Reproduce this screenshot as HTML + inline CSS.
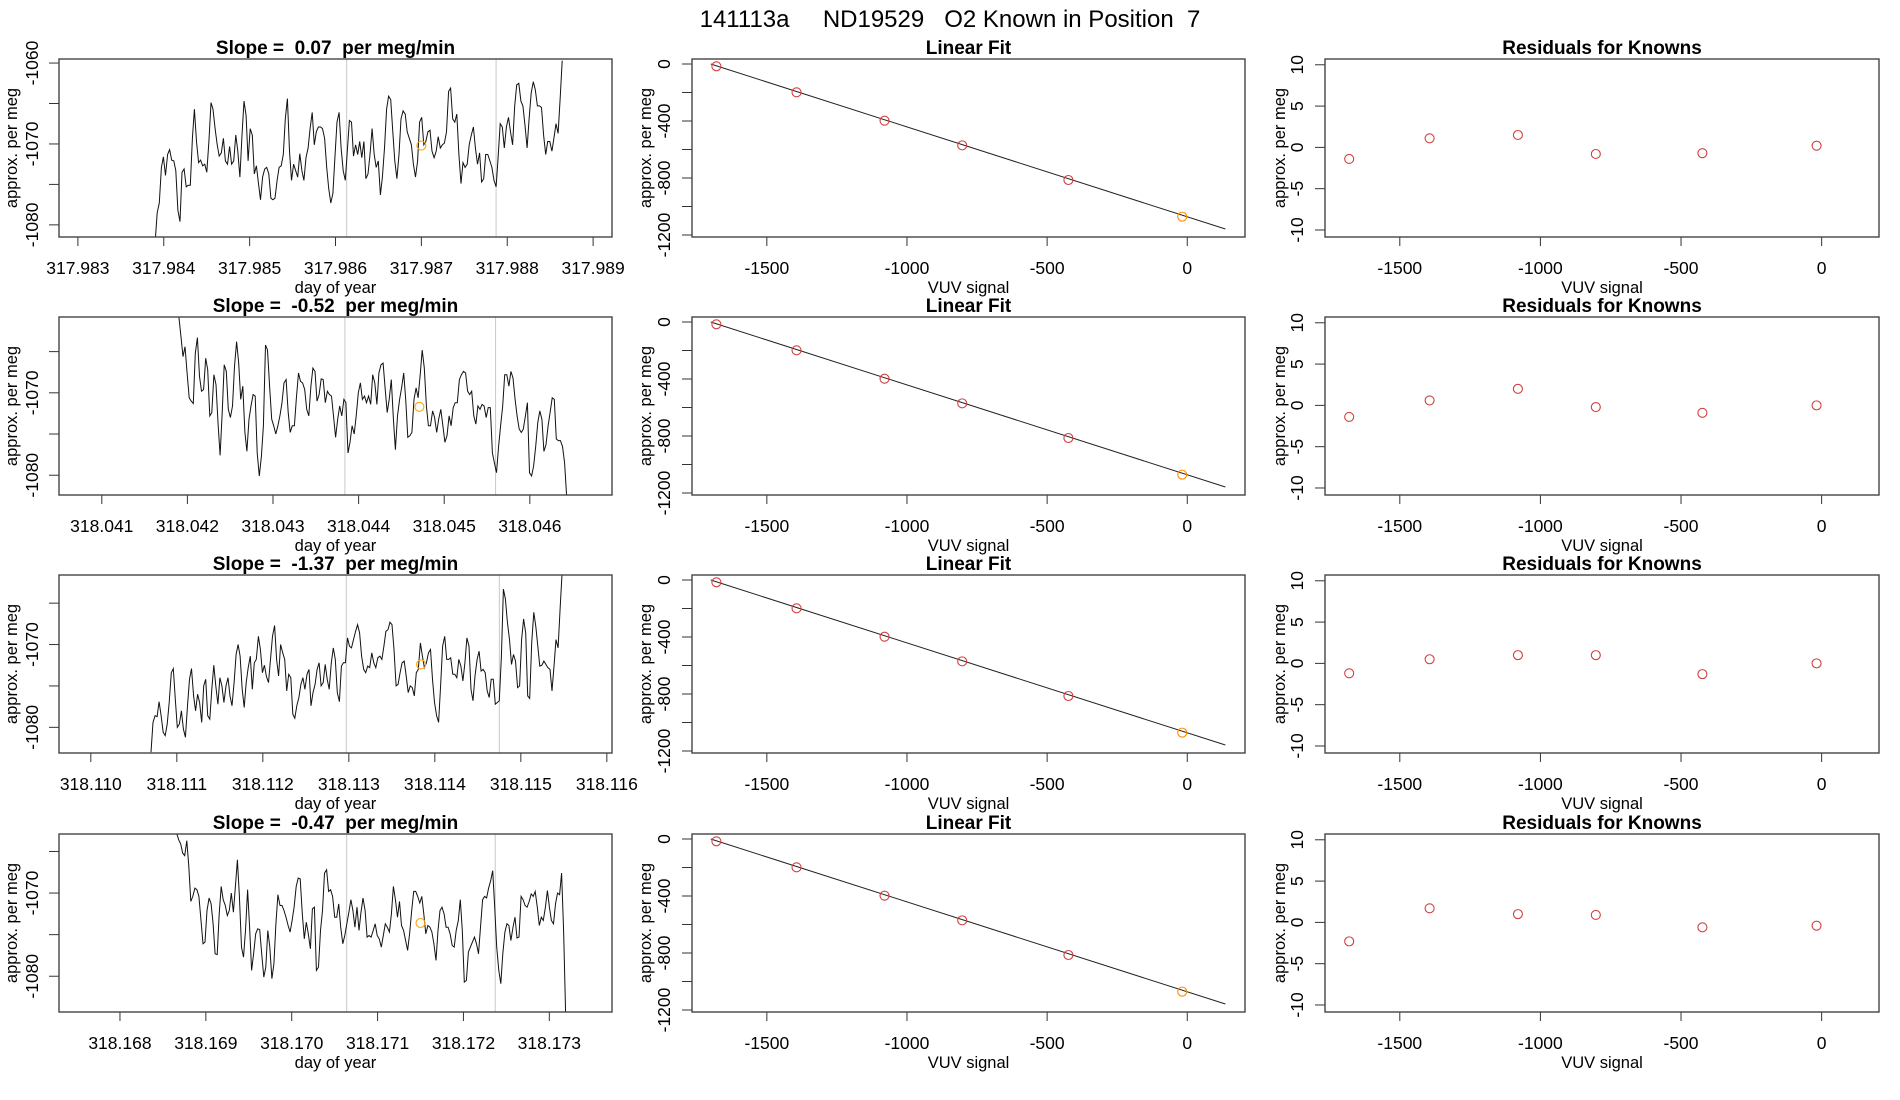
<!DOCTYPE html>
<html><head><meta charset="utf-8"><style>
html,body{margin:0;padding:0;background:#fff;}
svg{display:block;font-family:"Liberation Sans",sans-serif;}
text{white-space:pre;}
</style></head><body>
<svg id="fig" width="1900" height="1100" viewBox="0 0 1900 1100">
<text x="950" y="27" font-size="24" text-anchor="middle" xml:space="preserve">141113a     ND19529   O2 Known in Position  7</text>
</svg>
<script>
// ---- data ----
const slopeLabels = ["0.07", "-0.52", "-1.37", "-0.47"];
const tStart = [317.98390, 318.04190, 318.11070, 318.16866];
const tEnd = [317.98864, 318.04643, 318.11548, 318.17319];
const tLim = [[317.98278, 317.98922],[318.0405, 318.04696],[318.10963, 318.11606],[318.16729, 318.17373]];
const yLim1 = [[-1081.5, -1059.5],[-1082.4, -1060.8],[-1083.1, -1061.6],[-1084.3, -1062.9]];
const tTicks = [
 ["317.983","317.984","317.985","317.986","317.987","317.988","317.989"],
 ["318.041","318.042","318.043","318.044","318.045","318.046"],
 ["318.110","318.111","318.112","318.113","318.114","318.115","318.116"],
 ["318.168","318.169","318.170","318.171","318.172","318.173"]];
const vLines = [[317.98613, 317.98787],[318.04384, 318.04560],[318.11297, 318.11475],[318.17064, 318.17237]];
const orangeT = [317.98700, 318.04471, 318.11384, 318.17150];
const orangeV = [-1070.2, -1071.7, -1072.4, -1073.6];
const series1 = [-1082,-1078.5,-1077.3,-1072.9,-1071.6,-1073.9,-1071.3,-1070.7,-1072.0,-1072.1,-1073.3,-1078.2,-1079.6,-1073.5,-1073.1,-1075.3,-1075.1,-1075.1,-1069.3,-1065.7,-1069.7,-1072.3,-1072.0,-1072.7,-1072.5,-1073.5,-1069.7,-1064.9,-1065.7,-1068.1,-1070.1,-1071.5,-1071.1,-1069.3,-1072.1,-1072.5,-1070.3,-1072.5,-1072.1,-1068.9,-1070.9,-1074.1,-1068.9,-1064.7,-1066.5,-1072.1,-1068.1,-1068.9,-1073.7,-1072.7,-1074.9,-1076.9,-1074.1,-1073.1,-1072.9,-1073.7,-1076.7,-1076.9,-1076.7,-1074.5,-1072.9,-1072.7,-1071.3,-1066.9,-1064.4,-1070.9,-1074.5,-1072.5,-1073.3,-1074.1,-1071.2,-1073.3,-1074.5,-1071.7,-1070.5,-1068.1,-1066.1,-1070.1,-1068.5,-1067.9,-1067.9,-1068.1,-1069.3,-1072.9,-1075.5,-1077.3,-1076.1,-1071.7,-1067.3,-1066.1,-1070.5,-1073.3,-1074.5,-1070.9,-1067.1,-1067.3,-1071.5,-1070.1,-1071.3,-1069.7,-1071.7,-1069.7,-1074.3,-1073.7,-1071.3,-1068.1,-1071.3,-1072.9,-1072.1,-1076.3,-1074.1,-1070.5,-1065.7,-1064.1,-1064.5,-1068.5,-1072.1,-1074.3,-1071.3,-1066.9,-1065.9,-1066.3,-1068.5,-1069.3,-1070.1,-1072.5,-1074.1,-1072.1,-1067.3,-1066.7,-1070.1,-1069.7,-1068.5,-1068.3,-1070.9,-1071.7,-1070.9,-1069.1,-1070.5,-1070.1,-1069.9,-1068.5,-1063.5,-1063.1,-1066.9,-1067.3,-1066.3,-1071.3,-1074.9,-1072.3,-1072.9,-1072.5,-1070.1,-1068.9,-1067.9,-1070.5,-1072.5,-1071.1,-1074.7,-1074.3,-1071.3,-1071.3,-1072.1,-1072.9,-1074.5,-1075.3,-1071.7,-1067.5,-1067.9,-1070.5,-1067.9,-1066.7,-1068.5,-1070.1,-1065.3,-1062.7,-1062.5,-1064.7,-1065.3,-1067.7,-1070.5,-1066.9,-1063.7,-1062.3,-1063.3,-1065.3,-1065.3,-1065.5,-1068.9,-1071.3,-1069.7,-1069.7,-1070.9,-1069.3,-1067.5,-1068.7,-1064.5,-1059.7];
const series2 = [-1060.7,-1063.1,-1065.6,-1064.4,-1067.6,-1070.6,-1071.0,-1071.3,-1065.2,-1063.3,-1068.0,-1069.8,-1069.6,-1065.8,-1067.2,-1072.8,-1072.4,-1067.8,-1069.0,-1073.6,-1077.6,-1072.4,-1066.6,-1067.4,-1072.0,-1073.0,-1071.6,-1066.8,-1063.8,-1066.4,-1070.8,-1069.2,-1074.8,-1077.1,-1073.2,-1071.6,-1070.2,-1070.4,-1077.3,-1080.1,-1077.7,-1074.0,-1064.2,-1064.8,-1069.2,-1073.2,-1074.0,-1075.0,-1074.0,-1072.8,-1071.2,-1068.8,-1068.4,-1072.4,-1074.8,-1074.0,-1074.0,-1070.6,-1067.6,-1068.6,-1068.8,-1069.6,-1072.0,-1072.8,-1069.2,-1067.0,-1067.4,-1071.0,-1070.2,-1068.3,-1068.4,-1071.2,-1069.8,-1070.2,-1070.4,-1072.8,-1075.4,-1073.2,-1071.6,-1072.8,-1070.8,-1071.2,-1077.3,-1076.0,-1074.0,-1075.0,-1072.8,-1070.0,-1068.8,-1070.8,-1070.4,-1071.2,-1070.4,-1071.4,-1067.8,-1068.8,-1071.4,-1067.6,-1066.6,-1066.4,-1069.4,-1072.4,-1070.8,-1068.4,-1073.2,-1076.9,-1072.8,-1070.8,-1069.4,-1067.6,-1070.8,-1075.4,-1075.2,-1074.8,-1070.8,-1069.4,-1070.6,-1067.8,-1064.8,-1067.0,-1071.6,-1074.0,-1074.0,-1072.2,-1073.0,-1074.8,-1073.2,-1072.0,-1074.0,-1076.0,-1075.2,-1072.8,-1074.0,-1071.8,-1071.2,-1071.2,-1068.4,-1067.8,-1067.4,-1067.6,-1069.8,-1070.2,-1069.8,-1072.8,-1073.8,-1071.6,-1072.0,-1071.4,-1071.6,-1073.0,-1071.8,-1071.8,-1077.3,-1078.5,-1079.7,-1076.5,-1074.0,-1071.6,-1067.8,-1067.8,-1069.2,-1067.4,-1068.2,-1070.8,-1072.8,-1074.4,-1074.8,-1074.4,-1072.8,-1071.2,-1079.7,-1080.1,-1078.9,-1076.5,-1073.6,-1072.2,-1073.2,-1077.1,-1076.3,-1074.0,-1072.4,-1070.6,-1070.8,-1075.6,-1075.8,-1075.8,-1076.5,-1078.5,-1082.5];
const series3 = [-1083.0,-1079.4,-1078.6,-1078.7,-1076.9,-1078.6,-1080.6,-1081.0,-1079.6,-1077.0,-1073.4,-1072.9,-1076.6,-1080.0,-1079.6,-1078.0,-1080.2,-1081.2,-1077.4,-1074.2,-1072.9,-1076.2,-1078.0,-1076.0,-1077.0,-1079.4,-1075.0,-1074.2,-1078.6,-1079.0,-1075.4,-1072.5,-1075.0,-1077.2,-1074.0,-1075.0,-1077.0,-1075.0,-1074.0,-1076.2,-1077.4,-1074.6,-1071.2,-1070.0,-1071.4,-1075.4,-1077.6,-1074.6,-1072.8,-1071.4,-1075.4,-1072.2,-1071.8,-1069.0,-1070.6,-1073.4,-1072.5,-1073.9,-1074.6,-1071.8,-1069.0,-1067.7,-1071.8,-1073.8,-1070.0,-1071.0,-1071.8,-1075.6,-1073.6,-1074.0,-1078.4,-1078.9,-1077.4,-1076.4,-1074.8,-1074.0,-1075.4,-1073.6,-1073.0,-1077.4,-1075.8,-1074.8,-1073.0,-1072.2,-1075.0,-1074.6,-1072.4,-1074.2,-1075.4,-1072.2,-1070.4,-1071.8,-1075.8,-1076.9,-1072.6,-1072.2,-1072.2,-1069.2,-1070.2,-1070.4,-1069.4,-1068.4,-1067.6,-1068.6,-1071.4,-1073.0,-1073.4,-1072.6,-1072.8,-1071.0,-1072.2,-1072.8,-1071.6,-1071.4,-1071.8,-1070.2,-1068.4,-1068.2,-1067.3,-1067.6,-1070.6,-1075.0,-1074.8,-1073.4,-1072.2,-1072.0,-1073.8,-1075.8,-1075.0,-1075.2,-1076.2,-1073.4,-1073.0,-1069.8,-1071.4,-1072.8,-1072.2,-1071.0,-1070.6,-1074.2,-1077.0,-1078.6,-1079.4,-1075.0,-1070.2,-1069.0,-1071.8,-1071.8,-1071.6,-1073.6,-1073.6,-1074.0,-1071.8,-1072.6,-1074.4,-1072.2,-1069.2,-1070.2,-1075.4,-1076.8,-1073.8,-1071.8,-1070.8,-1073.2,-1073.0,-1073.4,-1075.6,-1076.4,-1074.2,-1074.2,-1077.2,-1077.0,-1076.8,-1071.4,-1063.3,-1064.5,-1067.3,-1069.4,-1072.4,-1071.2,-1072.0,-1075.2,-1075.0,-1069.4,-1066.9,-1068.6,-1076.2,-1076.5,-1069.8,-1066.1,-1067.8,-1070.2,-1072.6,-1072.5,-1072.0,-1072.4,-1072.8,-1073.0,-1075.6,-1072.6,-1069.4,-1070.4,-1065.7,-1061.3];
const series4 = [-1062.8,-1063.6,-1064.1,-1065.2,-1065.5,-1063.7,-1066.8,-1071.0,-1070.4,-1069.4,-1069.6,-1070.4,-1073.3,-1076.1,-1075.9,-1072.1,-1070.6,-1071.3,-1073.7,-1077.3,-1077.4,-1072.5,-1069.2,-1070.8,-1071.5,-1072.7,-1072.1,-1070.0,-1072.3,-1069.2,-1066.0,-1070.4,-1076.5,-1077.7,-1074.5,-1069.6,-1074.1,-1079.3,-1077.3,-1074.9,-1074.3,-1074.4,-1077.3,-1080.1,-1078.9,-1074.5,-1076.5,-1080.3,-1078.5,-1073.7,-1070.2,-1071.5,-1071.5,-1072.1,-1072.9,-1073.9,-1074.7,-1073.3,-1071.7,-1069.2,-1068.2,-1068.3,-1072.5,-1075.5,-1073.5,-1074.9,-1076.7,-1071.9,-1071.7,-1079.3,-1078.9,-1074.5,-1072.1,-1067.6,-1067.2,-1069.8,-1069.6,-1070.4,-1072.9,-1072.9,-1071.3,-1074.1,-1076.1,-1075.1,-1073.7,-1072.3,-1070.8,-1072.1,-1074.1,-1071.7,-1074.5,-1072.3,-1070.6,-1072.1,-1075.3,-1075.1,-1075.3,-1074.5,-1073.7,-1075.1,-1075.5,-1076.5,-1075.1,-1073.7,-1074.1,-1074.7,-1072.5,-1069.2,-1070.8,-1072.9,-1071.0,-1073.9,-1074.5,-1075.7,-1076.9,-1074.9,-1072.1,-1069.8,-1069.8,-1070.4,-1071.2,-1070.4,-1072.5,-1074.9,-1073.9,-1074.1,-1074.7,-1076.1,-1078.1,-1074.5,-1072.1,-1071.7,-1072.5,-1074.1,-1074.1,-1074.9,-1076.3,-1076.5,-1074.5,-1073.3,-1070.8,-1074.5,-1080.7,-1080.5,-1077.1,-1076.5,-1075.9,-1075.3,-1076.1,-1077.3,-1074.1,-1070.8,-1070.4,-1070.6,-1069.4,-1068.5,-1067.3,-1071.7,-1076.5,-1079.3,-1080.9,-1077.3,-1074.7,-1073.7,-1073.9,-1075.7,-1074.1,-1072.9,-1075.4,-1075.3,-1070.4,-1070.8,-1071.5,-1071.7,-1071.0,-1070.1,-1070.4,-1069.8,-1071.7,-1073.9,-1072.9,-1073.3,-1071.7,-1069.7,-1071.7,-1073.3,-1073.7,-1071.3,-1070.0,-1070.2,-1067.6,-1074.5,-1084.4];
const seriesAll = [series1, series2, series3, series4];
const vuvKnown = [-1680, -1394, -1080, -803, -424, -18];
const fitValues = [-16, -199, -398, -571, -814, -1071];
const fitLineX = [-1700, 136];
const fitLineY = [0, -1158];
const residuals = [
 [-1.4, 1.1, 1.5, -0.8, -0.7, 0.2],
 [-1.4, 0.6, 2.0, -0.2, -0.9, 0.0],
 [-1.2, 0.5, 1.0, 1.0, -1.3, 0.0],
 [-2.3, 1.7, 1.0, 0.9, -0.6, -0.4]];
const vuvTicks = [-1500, -1000, -500, 0];
const fitYTicks = [0, -200, -400, -600, -800, -1000, -1200];
const fitYLabels = [0, -400, -800, -1200];
const resTicks = [10, 5, 0, -5, -10];
const tsTicks = [-1085, -1080, -1075, -1070, -1065, -1060];
const tsLabels = [-1080, -1070, -1060];

// ---- drawing ----
const svg = document.getElementById('fig');
const NS = 'http://www.w3.org/2000/svg';
function mk(tag, attrs, parent) {
  const e = document.createElementNS(NS, tag);
  for (const k in attrs) e.setAttribute(k, attrs[k]);
  (parent || svg).appendChild(e);
  return e;
}
function lin(d0, d1, r0, r1) { return v => r0 + (v - d0) / (d1 - d0) * (r1 - r0); }
const rowTop = [59, 317, 575, 834];
const BH = 178;
const P = [{l:59, r:612}, {l:692, r:1245}, {l:1325, r:1879}];
const tickCol = '#333', boxCol = '#444';
const FS = 17.5, LFS = 16.5, TFS = 19;
let clipId = 0;

function frame(g, p, top, titleText, xlab, titleX, nameBase) {
  const b = mk('rect', {x:p.l, y:top, width:p.r-p.l, height:BH, fill:'none', stroke:boxCol, 'stroke-width':1.4}, g);
  
  
  const t = mk('text', {x:(p.l+p.r)/2, y:top-5, 'font-size':TFS, 'font-weight':'bold', 'text-anchor':'middle'}, g);
  t.textContent = titleText;
  
  
  const xl = mk('text', {x:(p.l+p.r)/2, y:top+BH+56, 'font-size':LFS, 'text-anchor':'middle'}, g);
  xl.textContent = xlab;
  
  
  const yl = mk('text', {x:0, y:0, 'font-size':LFS, 'text-anchor':'middle', transform:`translate(${titleX},${top+BH/2}) rotate(-90)`}, g);
  yl.textContent = 'approx. per meg';
  
  
}
function xTicks(g, p, top, vals, labels, sx, nameBase) {
  const yb = top + BH;
  mk('line', {x1:sx(vals[0]), x2:sx(vals[vals.length-1]), y1:yb, y2:yb, stroke:tickCol, 'stroke-width':1}, g);
  vals.forEach((v, i) => {
    const x = sx(v);
    mk('line', {x1:x, x2:x, y1:yb, y2:yb+9, stroke:tickCol, 'stroke-width':1}, g);
    const t = mk('text', {x:x, y:yb+37, 'font-size':FS, 'text-anchor':'middle'}, g);
    t.textContent = labels[i];
    
    
  });
}
function yTicks(g, p, vals, labels, sy, labX, nameBase) {
  vals.forEach(v => {
    const y = sy(v);
    mk('line', {x1:p.l-10, x2:p.l, y1:y, y2:y, stroke:tickCol, 'stroke-width':1}, g);
  });
  labels.forEach(v => {
    const y = sy(v);
    const t = mk('text', {x:0, y:0, 'font-size':FS, 'text-anchor':'middle', transform:`translate(${labX},${y}) rotate(-90)`}, g);
    t.textContent = String(v);
    
    
  });
}
function circle(g, cx, cy, col, name) {
  const c = mk('circle', {cx:cx, cy:cy, r:4.5, fill:'none', stroke:col, 'stroke-width':1.1}, g);
  
  
}

for (let r = 0; r < 4; r++) {
  const top = rowTop[r];
  // ---- panel 1: time series
  const g1 = mk('g', {});
  
  
  const p = P[0];
  const sx = lin(tLim[r][0], tLim[r][1], p.l, p.r);
  const sy = lin(yLim1[r][0], yLim1[r][1], top+BH, top);
  const id = 'clip' + (clipId++);
  const cp = mk('clipPath', {id:id}, g1);
  mk('rect', {x:p.l, y:top, width:p.r-p.l, height:BH}, cp);
  vLines[r].forEach(t => {
    const l = mk('line', {x1:sx(t), x2:sx(t), y1:top, y2:top+BH, stroke:'#c8c8c8', 'stroke-width':1}, g1);
    
    
  });
  const s = seriesAll[r];
  const n = s.length;
  const pts = s.map((v, i) => {
    const t = tStart[r] + (tEnd[r] - tStart[r]) * i / (n - 1);
    return sx(t).toFixed(1) + ',' + sy(v).toFixed(1);
  }).join(' ');
  const pl = mk('polyline', {points:pts, fill:'none', stroke:'#111', 'stroke-width':1, 'clip-path':`url(#${id})`}, g1);
  
  
  circle(g1, sx(orangeT[r]), sy(orangeV[r]), '#ffa500', 'mean-point');
  const labs = tTicks[r];
  const tv = labs.map(Number);
  xTicks(g1, p, top, tv, labs, sx, 'time-series');
  yTicks(g1, p, tsTicks.filter(v => v >= yLim1[r][0] && v <= yLim1[r][1]), tsLabels.filter(v => v >= yLim1[r][0] && v <= yLim1[r][1]), sy, 38, 'time-series');
  frame(g1, p, top, 'Slope =  ' + slopeLabels[r] + '  per meg/min', 'day of year', 17, 'time-series');

  // ---- panel 2: linear fit
  const g2 = mk('g', {});
  
  
  const p2 = P[1];
  const sx2 = lin(-1767, 206, p2.l, p2.r);
  const sy2 = lin(-1214, 35, top+BH, top);
  const fl = mk('line', {x1:sx2(fitLineX[0]), y1:sy2(fitLineY[0]), x2:sx2(fitLineX[1]), y2:sy2(fitLineY[1]), stroke:'#222', 'stroke-width':1}, g2);
  
  
  vuvKnown.forEach((x, i) => circle(g2, sx2(x), sy2(fitValues[i]), i === vuvKnown.length-1 ? '#ff8c00' : '#d04040', 'known-point'));
  xTicks(g2, p2, top, vuvTicks, vuvTicks.map(String), sx2, 'linear-fit');
  yTicks(g2, p2, fitYTicks, fitYLabels, sy2, 670, 'linear-fit');
  frame(g2, p2, top, 'Linear Fit', 'VUV signal', 651, 'linear-fit');

  // ---- panel 3: residuals
  const g3 = mk('g', {});
  
  
  const p3 = P[2];
  const sx3 = lin(-1766, 204, p3.l, p3.r);
  const sy3 = lin(-10.85, 10.7, top+BH, top);
  vuvKnown.forEach((x, i) => circle(g3, sx3(x), sy3(residuals[r][i]), '#d04040', 'residual-point'));
  xTicks(g3, p3, top, vuvTicks, vuvTicks.map(String), sx3, 'residuals');
  yTicks(g3, p3, resTicks, resTicks, sy3, 1303, 'residuals');
  frame(g3, p3, top, 'Residuals for Knowns', 'VUV signal', 1285, 'residuals');
}
</script>
</body></html>
